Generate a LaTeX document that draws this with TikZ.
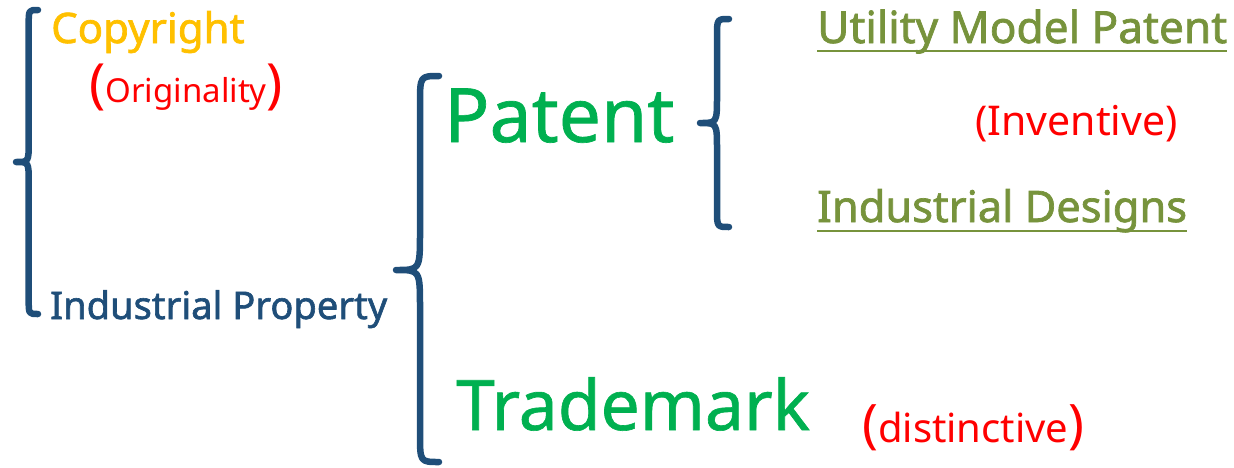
\documentclass[tikz,border=0pt]{standalone}
\usepackage{fontspec}
\setmainfont{Noto Sans}
\newfontfamily\semib[FakeBold=1.6]{Noto Sans}
\newfontfamily\midb[FakeBold=0.9]{Noto Sans}
\usepackage{tikz}
\usetikzlibrary{calc}
\definecolor{braceblue}{RGB}{31,78,121}
\definecolor{goldtext}{RGB}{255,192,0}
\definecolor{bigreen}{RGB}{0,176,80}
\definecolor{olivetext}{RGB}{119,147,60}
\def\fsz#1{\fontsize{#1}{#1}\selectfont}
% curly brace: (tip x, tip y)(stem x, end x)(top y, bottom y)
\def\curly(#1,#2)(#3,#4)(#5,#6){\draw[brace] (#4,#5) .. controls (#3,#5) .. (#3,{#5+1.5*(#4-#3)}) -- (#3,{#2-1.6*(#3-#1)}) .. controls (#3,#2) .. (#1,#2) .. controls (#3,#2) .. (#3,{#2+1.6*(#3-#1)}) -- (#3,{#6-1.5*(#4-#3)}) .. controls (#3,#6) .. (#4,#6);}

\begin{document}
\begin{tikzpicture}[x=1pt,y=-1pt,
	brace/.style={line width=6.5pt, color=braceblue, line cap=round, line join=round},
	lbl/.style={inner sep=0pt, anchor=base west},
	uline/.style={line width=2.5pt, color=olivetext}]
			%%%%% START %%%%%
			\useasboundingbox (0,0) rectangle (1234,467);
			
			\curly(16,162)(28.7,38)(10,314);
			\curly(396,270)(420,439)(76,462);
			\curly(700,123)(717,729)(19,227);
			
			\node[lbl, color=goldtext, font=\semib\fsz{42}] (copyright) at (51,43) {Copyright};
			\node[lbl, color=red] (originality) at (89,102) {\fsz{54}(\fsz{33}Originality\fsz{54})};
			\node[lbl, color=braceblue, font=\semib\fsz{38.1}] (indprop) at (50,319) {Industrial Property};
			
			\node[lbl, color=bigreen, font=\midb\fsz{75}] (patent) at (444,142) {Patent};
			\node[lbl, color=bigreen, font=\midb\fsz{69.6}] (trademark) at (456,430) {Trademark};
			\node[lbl, color=red] (distinctive) at (862,442) {\fsz{53}(\fsz{40}distinctive\fsz{53})};
			
			\node[lbl, color=olivetext, font=\semib\fsz{44.2}] (utility) at (817,43) {Utility Model Patent};
			\node[lbl, color=red, font=\fsz{41}] (inventive) at (975,135) {(Inventive)};
			\node[lbl, color=olivetext, font=\semib\fsz{43.4}] (designs) at (817,222) {Industrial Designs};
			
			\draw[uline] ([yshift=-8pt]utility.base west) -- ([yshift=-8pt]utility.base east);
			\draw[uline] ([yshift=-9pt]designs.base west) -- ([yshift=-9pt]designs.base east);
			%%%%% END %%%%%
\end{tikzpicture}
\end{document}
